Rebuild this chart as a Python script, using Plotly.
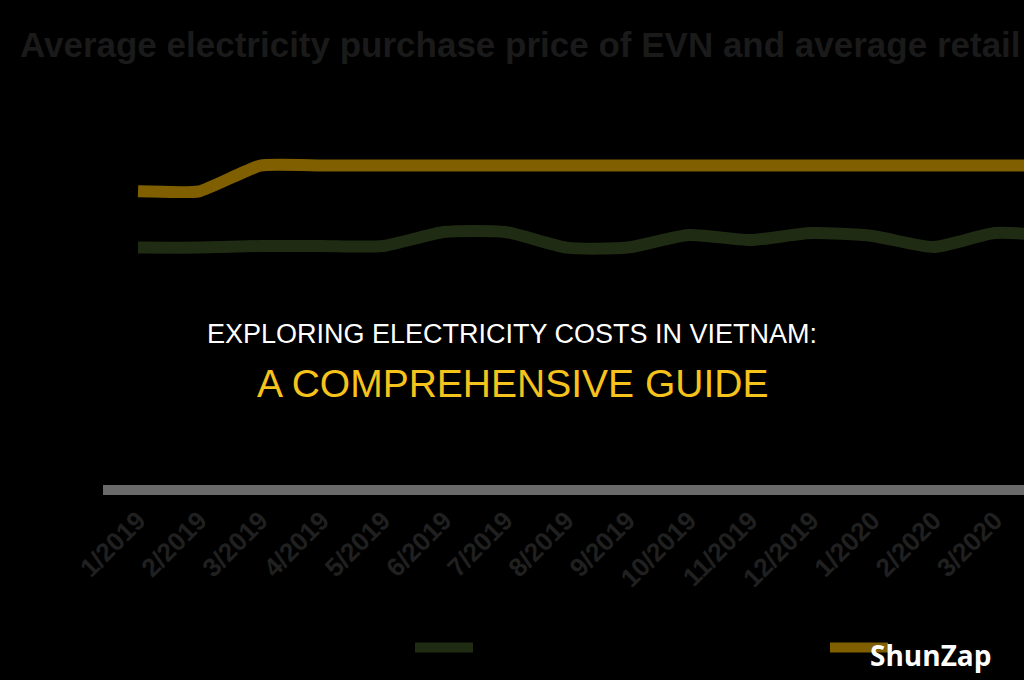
import plotly.graph_objects as go

months = ["1/2019", "2/2019", "3/2019", "4/2019", "5/2019", "6/2019", "7/2019", "8/2019",
          "9/2019", "10/2019", "11/2019", "12/2019", "1/2020", "2/2020", "3/2020", "4/2020"]
purchase_price = [1407, 1407, 1416, 1416, 1416, 1494, 1494, 1407,
                  1407, 1477, 1449, 1488, 1472, 1410, 1488, 1472]
retail_price = [1720.65, 1720.65, 1864.44, 1864.44, 1864.44, 1864.44, 1864.44, 1864.44,
                1864.44, 1864.44, 1864.44, 1864.44, 1864.44, 1864.44, 1864.44, 1864.44]

title_text = "Average electricity purchase price of EVN and average retail"
headline_1 = "EXPLORING ELECTRICITY COSTS IN VIETNAM:"
headline_2 = "A COMPREHENSIVE GUIDE"
brand = "ShunZap"

W, H = 1024, 680
L, R, T, B = 103, 0, 100, 195
pw, ph = W - L - R, H - T - B

def px_x(x):
    return (x - L) / pw

def px_y(y):
    return (H - B - y) / ph

fig = go.Figure()
fig.add_trace(go.Scatter(
    x=months, y=purchase_price, mode="lines", name="Average EVN purchase price",
    line=dict(color="#1f2b13", width=12, shape="spline", smoothing=0.6),
    legend="legend",
))
fig.add_trace(go.Scatter(
    x=months, y=retail_price, mode="lines", name="Average retail price",
    line=dict(color="#7f5f00", width=12, shape="spline", smoothing=0.4),
    legend="legend2",
))

legend_font = dict(family="Liberation Sans, Arial, sans-serif", size=14, color="#000000")

fig.update_layout(
    width=W, height=H,
    margin=dict(l=L, r=R, t=T, b=B),
    paper_bgcolor="#000000", plot_bgcolor="#000000",
    title=dict(text=title_text, x=20 / W, xanchor="left", xref="container",
               y=1 - 45 / H, yanchor="middle", yref="container",
               font=dict(family="Liberation Sans, Arial, sans-serif", size=35,
                         color="#1a1a1a", weight="bold")),
    xaxis=dict(type="category", range=[-0.572, 14.477], showgrid=False, zeroline=False,
               showline=True, linecolor="#6a6a6a", linewidth=10, ticks="",
               tickangle=-45,
               tickfont=dict(family="Liberation Sans, Arial, sans-serif", size=26,
                             color="#202020", weight="bold")),
    yaxis=dict(range=[84, 2229.5], showgrid=False, zeroline=False, showline=False,
               showticklabels=False, ticks=""),
    showlegend=True,
    legend=dict(orientation="h", x=px_x(410), xanchor="left", y=1 - 632 / H,
                yref="container", yanchor="top", itemwidth=58,
                font=legend_font, bgcolor="rgba(0,0,0,0)"),
    legend2=dict(orientation="h", x=px_x(825), xanchor="left", y=1 - 632 / H,
                 yref="container", yanchor="top", itemwidth=58,
                 font=legend_font, bgcolor="rgba(0,0,0,0)"),
    annotations=[
        dict(text=headline_1, x=px_x(512), y=px_y(334), xref="paper", yref="paper",
             xanchor="center", yanchor="middle", showarrow=False,
             font=dict(family="Liberation Sans, Arial, sans-serif", size=27, color="#ffffff")),
        dict(text=headline_2, x=px_x(512), y=px_y(383), xref="paper", yref="paper",
             xanchor="center", yanchor="middle", showarrow=False,
             font=dict(family="Liberation Sans, Arial, sans-serif", size=39, color="#f6c21c")),
        dict(text=brand, x=px_x(930), y=px_y(655), xref="paper", yref="paper",
             xanchor="center", yanchor="middle", showarrow=False,
             font=dict(family="Open Sans, sans-serif", size=28, color="#ffffff", weight="bold")),
    ],
)

fig.write_html("out.html")
